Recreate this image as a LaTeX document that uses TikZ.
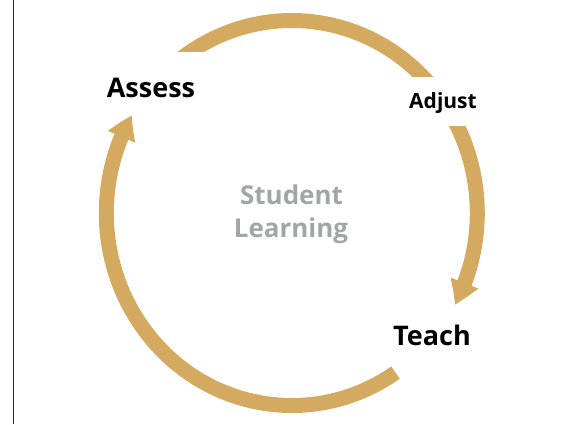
\documentclass[tikz,border=0pt]{standalone}
\usepackage{fontspec}
\setmainfont{Open Sans}
\usetikzlibrary{arrows.meta,bending}
\definecolor{gold}{RGB}{212,170,96}
\definecolor{softgray}{RGB}{163,165,168}

\begin{document}
\begin{tikzpicture}[x=1pt, y=1pt,
    loop/.style ={draw=gold, line width=15pt},
    looparrow/.style ={loop, -{Triangle[length=24pt, width=28pt, bend]}},
    stage/.style ={font=\bfseries\fontsize{27}{30}\selectfont, anchor=base},
    small stage/.style ={stage, font=\bfseries\fontsize{21}{24}\selectfont},
    core/.style ={font=\bfseries\fontsize{26}{30}\selectfont, text=softgray, anchor=base}]
   \useasboundingbox (0,0) rectangle (579,424);
   \coordinate (O) at (291.8,211);
   \draw[line width=1.5pt, gray!30!black] (13.5,0) -- (13.5,424);

   \node[stage] (assess) at (151,326) {Assess};
   \node[small stage] (adjust) at (443,315) {Adjust};
   \node[stage] (teach) at (432,79) {Teach};
   \node[core] (student) at (291.5,219) {Student};
   \node[core] (learning) at (291,186) {Learning};

   % assess -> adjust
   \begin{scope}
     \clip (0,372) -- (292,372) -- (292,347) -- (579,347) -- (579,424) -- (0,424) -- cycle;
     \draw[loop] (O) ++(40:185.5 and 192.5)
       arc[start angle=40, end angle=132, x radius=185.5, y radius=192.5];
   \end{scope}

   % adjust -> teach
   \begin{scope}
     \clip (0,0) rectangle (579,297);
     \draw[looparrow] (O) ++(34:185.5 and 192.5)
       arc[start angle=34, end angle=-28.5, x radius=185.5, y radius=192.5];
   \end{scope}

   % teach -> assess
   \draw[looparrow] (O) ++(-56:185.5 and 192.5)
     arc[start angle=-56, end angle=-210.5, x radius=185.5, y radius=192.5];

 \end{tikzpicture}
\end{document}
